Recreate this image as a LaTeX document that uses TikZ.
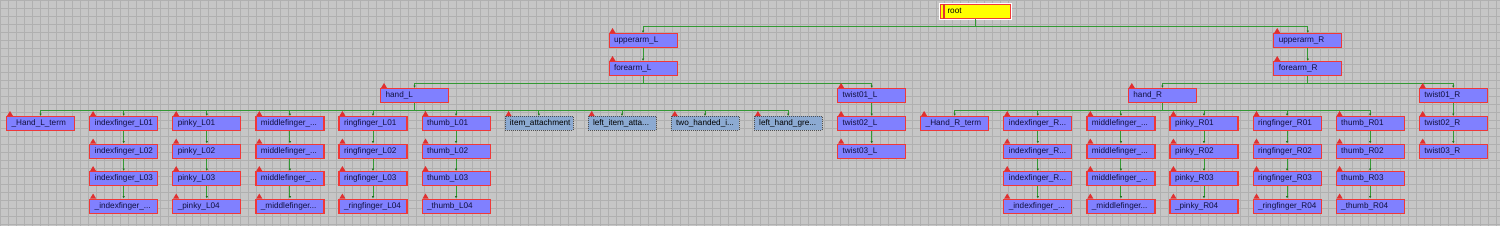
\documentclass[tikz,border=0pt]{standalone}
\usepackage{fontspec}
\newfontfamily\uifont{Liberation Sans}
\usetikzlibrary{arrows.meta, positioning}
\definecolor{canvas}{HTML}{C6C6C6}
\definecolor{gridline}{HTML}{B0B0B0}
\definecolor{bonefill}{HTML}{8080FF}
\definecolor{boneedge}{HTML}{F03838}
\definecolor{bonetext}{HTML}{101040}
\definecolor{helperfill}{HTML}{8CAAD2}
\definecolor{helperedge}{HTML}{505050}
\definecolor{linkgreen}{HTML}{339933}
\definecolor{tipgreen}{HTML}{1F6F1F}
\definecolor{flagred}{HTML}{E03030}
\definecolor{rootfill}{HTML}{FFFF00}

\tikzset{
  bone/.style={draw=boneedge, line width=1.2pt, fill=bonefill, anchor=north west,
    text width=58pt, inner xsep=5pt, inner ysep=0pt, minimum height=14pt,
    text height=6pt, text depth=1.8pt,
    align=left, font=\uifont\fontsize{8.2}{9}\selectfont, text=bonetext},
  helper/.style={bone, draw=helperedge, line width=0.6pt,
    dash pattern=on 1pt off 1pt, fill=helperfill, text=black},
  rootbox/.style={bone, fill=rootfill, text width=56pt, inner xsep=7pt,
    preaction={draw=white, line width=3.4pt}, text=black},
  link/.style={draw=linkgreen, line width=0.9pt,
    -{Latex[length=2.5pt, width=2.5pt, color=tipgreen]}},
  flag/.style={fill=flagred}
}
\newcommand{\flagon}[1]{\fill[flag] ([xshift=1pt]#1.north west) -- ++(6,0) -- ++(-3,-5) -- cycle;}
\newcommand{\trunc}{...}

\begin{document}
\begin{tikzpicture}[x=1pt, y=-1pt]
  \useasboundingbox (0,0) rectangle (1500,226);

  % Canvas
  \fill[canvas] (0,0) rectangle (1500,226);
  \foreach \gx in {0,8,...,1496} \draw[gridline, line width=0.5pt] (\gx,0) -- (\gx,226);
  \foreach \gy in {0,8,...,224} \draw[gridline, line width=0.5pt] (0,\gy) -- (1500,\gy);

  % Upper chain
  \node[rootbox] (root) at (939.9,4) {root};
  \node[bone] (uaL) at (608.5,33) {upperarm\_L};
  \node[bone] (faL) at (608.5,61) {forearm\_L};
  \node[bone] (uaR) at (1273.2,33) {upperarm\_R};
  \node[bone] (faR) at (1273.2,61) {forearm\_R};
  \node[bone] (handL) at (380,88) {hand\_L};
  \node[bone] (handR) at (1127.8,88) {hand\_R};

  % Twist chains
  \node[bone] (tw1L) at (837.1,88) {twist01\_L};
  \node[bone] (tw2L) at (837.1,116) {twist02\_L};
  \node[bone] (tw3L) at (837.1,143.5) {twist03\_L};
  \node[bone] (tw1R) at (1418.7,88) {twist01\_R};
  \node[bone] (tw2R) at (1418.7,116) {twist02\_R};
  \node[bone] (tw3R) at (1418.7,143.5) {twist03\_R};

  % Hand terms and helpers
  \node[bone] (termL) at (6,116) {\_Hand\_L\_term};
  \node[bone] (termR) at (920.1,116) {\_Hand\_R\_term};
  \node[helper] (attach) at (504.6,116) {item\_attachment};
  \node[helper] (leftattach) at (587.7,116) {left\_item\_atta\trunc};
  \node[helper] (twohand) at (670.8,116) {two\_handed\_i\trunc};
  \node[helper] (leftgrip) at (753.9,116) {left\_hand\_gre\trunc};

  % Links above the hands
  \draw[link] (root.south) -- ++(0,7) -| (uaL.north);
  \draw[link] (root.south) -- ++(0,7) -| (uaR.north);
  \draw[link] (uaL.south) -- (faL.north);
  \draw[link] (uaR.south) -- (faR.north);
  \draw[link] (faL.south) -- ++(0,7) -| (handL.north);
  \draw[link] (faL.south) -- ++(0,7) -| (tw1L.north);
  \draw[link] (faR.south) -- ++(0,7) -| (handR.north);
  \draw[link] (faR.south) -- ++(0,7) -| (tw1R.north);
  \draw[link] (tw1L.south) -- (tw2L.north);
  \draw[link] (tw2L.south) -- (tw3L.north);
  \draw[link] (tw1R.south) -- (tw2R.north);
  \draw[link] (tw2R.south) -- (tw3R.north);
  \foreach \n in {termL, attach, leftattach, twohand, leftgrip}
    \draw[link] (handL.south) -- ++(0,7) -| (\n.north);
  \draw[link] (handR.south) -- ++(0,7) -| (termR.north);

  % Finger chains
  \foreach \c/\p/\n/\ta/\tb/\tc/\td in {
    2/handL/iL/indexfinger\_L01/indexfinger\_L02/indexfinger\_L03/\_indexfinger\_\trunc,
    3/handL/pL/pinky\_L01/pinky\_L02/pinky\_L03/\_pinky\_L04,
    4/handL/mL/middlefinger\_\trunc/middlefinger\_\trunc/middlefinger\_\trunc/\_middlefinger\trunc,
    5/handL/rL/ringfinger\_L01/ringfinger\_L02/ringfinger\_L03/\_ringfinger\_L04,
    6/handL/tL/thumb\_L01/thumb\_L02/thumb\_L03/\_thumb\_L04,
    13/handR/iR/indexfinger\_R\trunc/indexfinger\_R\trunc/indexfinger\_R\trunc/\_indexfinger\_\trunc,
    14/handR/mR/middlefinger\_\trunc/middlefinger\_\trunc/middlefinger\_\trunc/\_middlefinger\trunc,
    15/handR/pR/pinky\_R01/pinky\_R02/pinky\_R03/\_pinky\_R04,
    16/handR/rR/ringfinger\_R01/ringfinger\_R02/ringfinger\_R03/\_ringfinger\_R04,
    17/handR/tR/thumb\_R01/thumb\_R02/thumb\_R03/\_thumb\_R04}
  {
    \node[bone] (\n1) at ({6+83.1*(\c-1)},116) {\ta};
    \node[bone] (\n2) at ({6+83.1*(\c-1)},143.5) {\tb};
    \node[bone] (\n3) at ({6+83.1*(\c-1)},171) {\tc};
    \node[bone] (\n4) at ({6+83.1*(\c-1)},198.5) {\td};
    \draw[link] (\p.south) -- ++(0,7) -| (\n1.north);
    \draw[link] (\n1.south) -- (\n2.north);
    \draw[link] (\n2.south) -- (\n3.north);
    \draw[link] (\n3.south) -- (\n4.north);
    \foreach \k in {1,...,4} {\flagon{\n\k}}
  }

  % Flags
  \foreach \n in {uaL, faL, uaR, faR, handL, handR, tw1L, tw2L, tw3L, tw1R, tw2R, tw3R,
    termL, termR, attach, leftattach, twohand, leftgrip}
    {\flagon{\n}}

  % Root marker
  \draw[flagred, line width=1.2pt] ([xshift=4pt]root.north west) -- ([xshift=4pt]root.south west);
\end{tikzpicture}
\end{document}
